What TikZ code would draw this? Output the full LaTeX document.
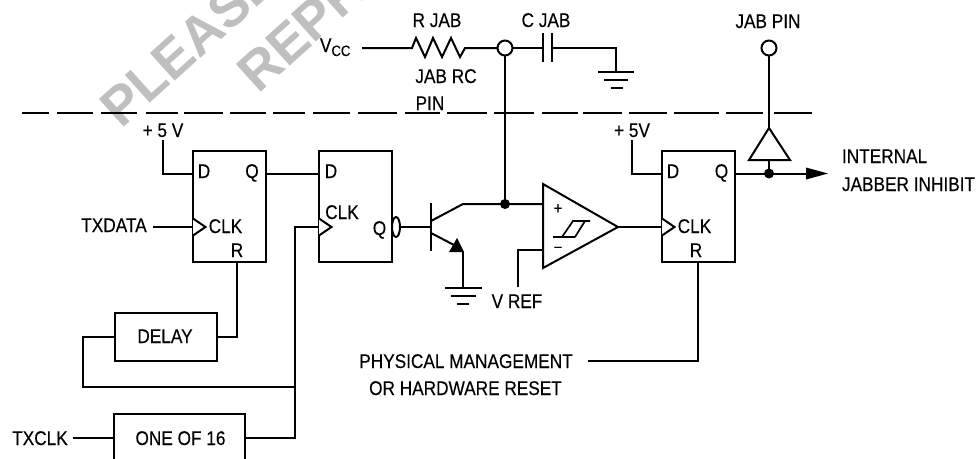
\documentclass[tikz,border=0pt]{standalone}
\usepackage{fontspec}
\usetikzlibrary{shapes.geometric}
\setmainfont[FakeStretch=0.87,FakeBold=0.25]{Liberation Sans}
\newfontfamily\wmfont{Liberation Sans Bold}
\tikzset{
  wire/.style={line width=2pt,line join=miter,line cap=butt},
  lbl/.style={anchor=base,inner sep=0pt,outer sep=0pt,font=\fontsize{19.8}{22}\selectfont},
  lbll/.style={lbl,anchor=base west},
  box/.style={draw,line width=2pt,inner sep=0pt,outer sep=0pt},
  ffbox/.style={box,minimum width=73pt,minimum height=111pt},
  pinc/.style={circle,draw,line width=2pt,fill=white,minimum size=15pt,inner sep=0pt,outer sep=0pt},
  jdot/.style={circle,fill=black,minimum size=10pt,inner sep=0pt,outer sep=0pt},
  wm/.style={anchor=base west,inner sep=0pt,text=black!25,rotate=42,font=\wmfont\fontsize{54}{54}\selectfont}
}
\begin{document}
\begin{tikzpicture}[x=1pt,y=-1pt]
\useasboundingbox (0,0) rectangle (979,458);
\clip (0,0) rectangle (979,458);
\fill[white] (0,0) rectangle (979,458);
% watermark
\node[wm] (wm1) at (121,130) {PLEASE};
\node[wm] (wm2) at (258,95) {REPR};
% boundary
\foreach \a/\b in {22/49,57/93,101/137,146/178,184/223,230/266,273/305,313/350,358/397,405/440,447/487,494/534,542/578,583/622,629/667,674/719,726/763,774/812}
  \draw[line width=2pt] (\a,113) -- (\b,113);
% boxes
\node[ffbox] (ff1) at (229.5,206.5) {};
\node[ffbox] (ff2) at (355.5,206.5) {};
\node[ffbox] (ff3) at (698,206.5) {};
\node[box,minimum width=102pt,minimum height=48pt] (delay) at (166,337) {};
\node[box,minimum width=131pt,minimum height=90pt] (one) at (179.5,459) {};
% coordinates
\coordinate (p5a) at (163,140);
\coordinate (d1) at (ff1.west |- 0,173.5);
\coordinate (q1) at (ff1.east |- 0,173.5);
\coordinate (d2) at (ff2.west |- 0,173.5);
\coordinate (c1) at (ff1.west |- 0,227);
\coordinate (c2) at (ff2.west |- 0,227);
\coordinate (c3) at (ff3.west |- 0,227);
\coordinate (r1) at (237,262);
\coordinate (txd) at (153,227);
\coordinate (dl) at (83,337);
\coordinate (busb) at (295,387);
\coordinate (dl2) at (83,387);
\coordinate (bus) at (295,227);
\coordinate (onr) at (295,438);
\coordinate (txc) at (73,438);
\coordinate (oe) at (245,438);
\coordinate (oi) at (114,438);
\coordinate (de) at (217,337);
\coordinate (r1b) at (237,337);
% FF wires
\draw[wire] (p5a) |- (d1);
\draw[wire] (q1) -- (d2);
\draw[wire] (txd) -- (c1);
\draw[wire] (r1) -- (r1b) -- (de);
\draw[wire] (delay.west) -- (dl) -- (dl2) -- (busb);
\draw[wire] (txc) -- (oi);
\draw[wire] (oe) -- (onr) -- (bus) -- (c2);
% clock triangles
\foreach \x in {193,319,662}
  \draw[wire,fill=white] (\x,218.5) -- (\x+12.5,227) -- (\x,235.5);
% bubble and transistor
\node[draw,ellipse,line width=2pt,minimum width=8pt,minimum height=20pt,inner sep=0pt,outer sep=0pt] (bub) at (396,227) {};
\coordinate (base) at (431,227);
\draw[wire] (bub.east) -- (base);
\draw[wire] (431,203) -- (431,251);
\coordinate (col) at (463,204);
\node[jdot] (j1) at (505,204) {};
\node[pinc] (rcpin) at (505,48) {};
\coordinate (opp) at (543,204);
\coordinate (opm) at (543,250);
\coordinate (opo) at (618,227);
\draw[wire] (431,221) -- (col) -- (j1.center) -- (opp);
\draw[wire] (j1.center) -- (rcpin.south);
% emitter
\coordinate (em) at (463,252);
\coordinate (g1) at (463,288);
\draw[wire] (431,233) -- (454,245);
\fill (457,238) -- (449,252) -- (464,252) -- cycle;
\draw[wire] (em) -- (g1);
\draw[wire] (445,288) -- (482,288);
\draw[wire] (451,296) -- (476,296);
\draw[wire] (457,304) -- (469,304);
% comparator
\draw[wire] (543,184) -- (618,227) -- (543,268) -- cycle;
\draw[line width=1.7pt] (553,237) -- (575,237) (572,221) -- (590,221) (562,237) -- (573,221) (575,237) -- (585,221);
\node[inner sep=0pt,font=\fontsize{17}{17}\selectfont] (plus) at (558,209) {+};
\node[inner sep=0pt,font=\fontsize{15}{15}\selectfont] (minus) at (558,249) {–};
\coordinate (vr) at (518,287);
\draw[wire] (opm) -| (vr);
\draw[wire] (opo) -- (c3);
% FF3
\coordinate (p5b) at (632,140);
\coordinate (d3) at (ff3.west |- 0,173.5);
\coordinate (q3) at (ff3.east |- 0,173.5);
\draw[wire] (p5b) |- (d3);
\coordinate (r3) at (698,262);
\coordinate (rs) at (588,361);
\draw[wire] (r3) |- (rs);
% output
\node[jdot] (j2) at (769,173.5) {};
\coordinate (tip) at (828,173.5);
\coordinate (abase) at (807,173.5);
\draw[wire] (q3) -- (abase);
\fill (tip) -- (806,167.5) -- (806,179.5) -- cycle;
\node[pinc] (jabpin) at (769,48) {};
\coordinate (bufa) at (769,128);
\coordinate (bufb) at (769,160);
\draw[wire,fill=white] (769,128) -- (790,160) -- (749,160) -- cycle;
\draw[wire] (j2.center) -- (bufb);
\draw[wire] (bufa) -- (jabpin.south);
% RC
\coordinate (vcc) at (362,48);
\coordinate (ra) at (412,48);
\coordinate (rb) at (465,48);
\coordinate (ca) at (543,48);
\coordinate (cb) at (552,48);
\coordinate (gnd) at (616,72);
\draw[wire] (vcc) -- (ra) -- (416,38) -- (425,57) -- (433,38) -- (442,57) -- (451,38) -- (460,57) -- (rb) -- (rcpin.west);
\draw[wire] (rcpin.east) -- (ca);
\draw[wire] (543,33) -- (543,62) (552,33) -- (552,62);
\draw[wire] (cb) -| (gnd);
\draw[wire] (598,72) -- (634,72);
\draw[wire] (604,80) -- (628,80);
\draw[wire] (611,88) -- (623,88);
% labels
\node[lbl] (t1) at (163,137) {+ 5 V};
\node[lbl] (t2) at (632,137) {+ 5V};
\node[lbl] (t3) at (204,178) {D};
\node[lbl] (t4) at (252,178) {Q};
\node[lbl] (t5) at (225.5,233) {CLK};
\node[lbl] (t6) at (237,257) {R};
\node[lbl] (t7) at (114,232) {TXDATA};
\node[lbl] (t8) at (165,343) {DELAY};
\node[lbl] (t9) at (40,445) {TXCLK};
\node[lbl] (t10) at (180.5,445) {ONE OF 16};
\node[lbl] (t11) at (331,178) {D};
\node[lbl] (t12) at (342,219) {CLK};
\node[lbl] (t13) at (379.5,235) {Q};
\node[lbl] (t14) at (673,178) {D};
\node[lbl] (t15) at (721.5,178) {Q};
\node[lbl] (t16) at (694.5,233) {CLK};
\node[lbl] (t17) at (696,257) {R};
\node[lbll] (t18) at (842,163) {INTERNAL};
\node[lbll] (t19) at (842,191) {JABBER INHIBIT};
\node[lbl] (t20) at (768,28) {JAB PIN};
\node[lbl] (t21) at (437,27) {R JAB};
\node[lbl] (t22) at (546,27) {C JAB};
\node[lbl] (t23) at (446,83) {JAB RC};
\node[lbl] (t24) at (430,110) {PIN};
\node[lbl] (t25) at (517,308) {V REF};
\node[lbl] (t26) at (466,368) {PHYSICAL MANAGEMENT};
\node[lbl] (t27) at (465.5,395) {OR HARDWARE RESET};
\node[lbll] (t28) at (320,52) {V\raisebox{-4pt}{\fontsize{15}{15}\selectfont CC}};
\end{tikzpicture}
\end{document}
